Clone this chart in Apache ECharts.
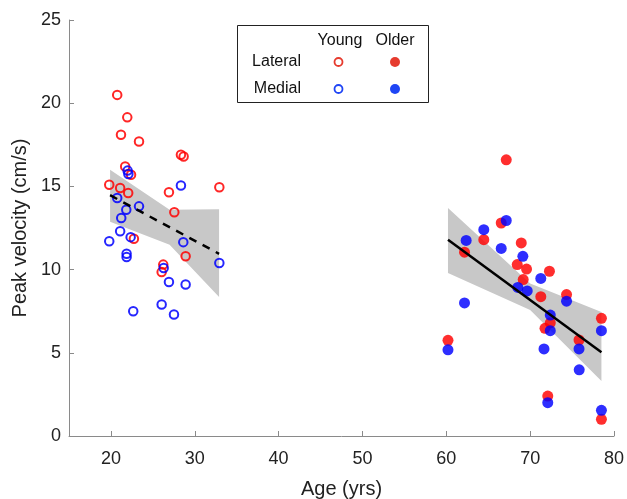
<!DOCTYPE html>
<html>
<head>
<meta charset="utf-8">
<script src="https://cdn.jsdelivr.net/npm/echarts@6/dist/echarts.min.js"></script>
<style>
  html, body { margin: 0; padding: 0; background: #fff; }
  #chart { width: 627px; height: 499px; }
</style>
</head>
<body>
<div id="chart"></div>
<script>
// young group, lateral (red open) / medial (blue open): [age, peak velocity]
var youngLateral = [
    [20.75, 20.5], [21.95, 19.15], [21.2, 18.1], [23.35, 17.7], [28.35, 16.9], [28.67, 16.8],
    [21.7, 16.2], [22.4, 15.7], [19.8, 15.1], [21.1, 14.9], [32.93, 14.95], [22.06, 14.6],
    [26.92, 14.65], [27.56, 13.45], [22.74, 11.85], [28.91, 10.8], [26.05, 9.85], [26.24, 10.3]
];
var youngMedial = [
    [21.99, 15.95], [22.08, 15.75], [28.35, 15.05], [20.75, 14.3], [21.83, 13.6], [23.35, 13.8],
    [21.23, 13.1], [21.1, 12.3], [19.8, 11.7], [22.35, 11.95], [28.63, 11.65], [21.87, 10.95],
    [21.87, 10.75], [32.93, 10.4], [26.29, 10.1], [26.92, 9.25], [28.91, 9.1], [26.05, 7.9],
    [22.66, 7.5], [27.52, 7.3]
];
// older group, lateral (red filled) / medial (blue filled)
var olderLateral = [
    [67.15, 16.6], [66.55, 12.8], [64.47, 11.8], [62.17, 11.05], [68.94, 11.6], [68.46, 10.3],
    [69.57, 10.03], [69.17, 9.4], [72.3, 9.9], [71.27, 8.37], [74.34, 8.5], [78.5, 7.07],
    [72.4, 6.8], [71.77, 6.47], [75.83, 5.77], [60.2, 5.75], [72.1, 2.4], [78.5, 1.0]
];
var olderMedial = [
    [67.15, 12.95], [64.47, 12.4], [62.37, 11.75], [66.55, 11.27], [69.13, 10.8], [71.27, 9.47],
    [68.53, 8.93], [69.65, 8.72], [74.34, 8.1], [62.17, 8.0], [72.4, 7.27], [72.4, 6.33],
    [78.5, 6.33], [71.65, 5.23], [75.83, 5.23], [60.2, 5.18], [75.85, 3.98], [72.1, 2.0], [78.5, 1.54]
];

// regression fits and confidence bands
var youngFit = [[19.9, 14.47], [32.9, 10.95]];
var youngBandX = [19.9, 27.0, 32.9];
var youngBandLo = [12.87, 11.5, 8.35];
var youngBandHi = [16.0, 13.6, 13.62];

var olderFit = [[60.2, 11.8], [78.5, 5.04]];
var olderBandX = [60.2, 70.0, 78.5];
var olderBandLo = [9.8, 7.57, 3.3];
var olderBandHi = [13.7, 9.17, 7.45];

var xTicks = [20, 30, 40, 50, 60, 70, 80];

var RED = '#ff0000';
var BLUE = '#0000ff';
var FONT = '"Liberation Sans", Arial, Helvetica, sans-serif';

function bandSeries(xs, lo, hi) {
    var data = xs.map(function (x, i) { return [x, lo[i], hi[i]]; });
    return {
        type: 'custom',
        silent: true,
        z: 1,
        data: data,
        encode: { x: 0, y: [1, 2] },
        renderItem: function (params, api) {
            if (params.dataIndex !== 0) return null;
            var pts = [];
            data.forEach(function (d) { pts.push(api.coord([d[0], d[2]])); });
            for (var i = data.length - 1; i >= 0; i--) pts.push(api.coord([data[i][0], data[i][1]]));
            return {
                type: 'polygon',
                shape: { points: pts },
                style: { fill: '#c8c8c8', stroke: null }
            };
        }
    };
}

function openScatter(data, color) {
    return {
        type: 'scatter', data: data, symbol: 'circle', symbolSize: 8.5, z: 3,
        itemStyle: { color: 'rgba(0,0,0,0)', borderColor: color, borderWidth: 2, opacity: 0.85 }
    };
}
function filledScatter(data, color) {
    return {
        type: 'scatter', data: data, symbol: 'circle', symbolSize: 11, z: 3,
        itemStyle: { color: color, opacity: 0.82 }
    };
}

var chart = echarts.init(document.getElementById('chart'));

var option = {
    animation: false,
    grid: { left: 69, right: 13, top: 20, bottom: 63, containLabel: false, outerBoundsMode: 'none' },
    xAxis: {
        type: 'value', min: 15, max: 80, interval: 10,
        name: 'Age (yrs)', nameLocation: 'middle', nameGap: 43,
        nameTextStyle: { fontFamily: FONT, fontSize: 20, color: '#222' },
        axisLine: { show: true, lineStyle: { color: '#8a8a8a', width: 1 } },
        axisTick: { show: true, inside: true, length: 5, lineStyle: { color: '#8a8a8a' },
            customValues: xTicks },
        axisLabel: { fontFamily: FONT, fontSize: 18, color: '#222', margin: 14,
            customValues: xTicks },
        splitLine: { show: false }
    },
    yAxis: {
        type: 'value', min: 0, max: 25, interval: 5,
        name: 'Peak velocity (cm/s)', nameLocation: 'middle', nameGap: 38,
        nameTextStyle: { fontFamily: FONT, fontSize: 20, color: '#222' },
        axisLine: { show: true, lineStyle: { color: '#8a8a8a', width: 1 } },
        axisTick: { show: true, inside: true, length: 5, lineStyle: { color: '#8a8a8a' } },
        axisLabel: { fontFamily: FONT, fontSize: 18, color: '#222', margin: 8 },
        splitLine: { show: false }
    },
    series: [
        bandSeries(youngBandX, youngBandLo, youngBandHi),
        bandSeries(olderBandX, olderBandLo, olderBandHi),
        openScatter(youngLateral, RED),
        openScatter(youngMedial, BLUE),
        filledScatter(olderLateral, RED),
        filledScatter(olderMedial, BLUE),
        {
            type: 'line', data: youngFit, symbol: 'none', z: 4,
            lineStyle: { color: '#000', width: 2.5, type: [8, 7] }
        },
        {
            type: 'line', data: olderFit, symbol: 'none', z: 4,
            lineStyle: { color: '#000', width: 2.5 }
        }
    ],
    graphic: [
        {
            type: 'rect', left: 237, top: 25, z: 10,
            shape: { width: 191, height: 77 },
            style: { fill: '#fff', stroke: '#222', lineWidth: 1 }
        },
        { type: 'text', x: 340, y: 41, z: 11, style: { text: 'Young', fill: '#111', font: '16px ' + FONT, align: 'center', verticalAlign: 'middle' } },
        { type: 'text', x: 395, y: 41, z: 11, style: { text: 'Older', fill: '#111', font: '16px ' + FONT, align: 'center', verticalAlign: 'middle' } },
        { type: 'text', x: 301, y: 62, z: 11, style: { text: 'Lateral', fill: '#111', font: '16px ' + FONT, align: 'right', verticalAlign: 'middle' } },
        { type: 'text', x: 301, y: 89, z: 11, style: { text: 'Medial', fill: '#111', font: '16px ' + FONT, align: 'right', verticalAlign: 'middle' } },
        { type: 'circle', z: 11, shape: { cx: 338.5, cy: 62, r: 4 }, style: { fill: 'none', stroke: '#e63b2e', lineWidth: 1.8 } },
        { type: 'circle', z: 11, shape: { cx: 395, cy: 62, r: 5 }, style: { fill: '#e63b2e' } },
        { type: 'circle', z: 11, shape: { cx: 338.5, cy: 89, r: 4 }, style: { fill: 'none', stroke: '#1f45f5', lineWidth: 1.8 } },
        { type: 'circle', z: 11, shape: { cx: 395, cy: 89, r: 5 }, style: { fill: '#1f45f5' } }
    ]
};

chart.setOption(option);
</script>
</body>
</html>
